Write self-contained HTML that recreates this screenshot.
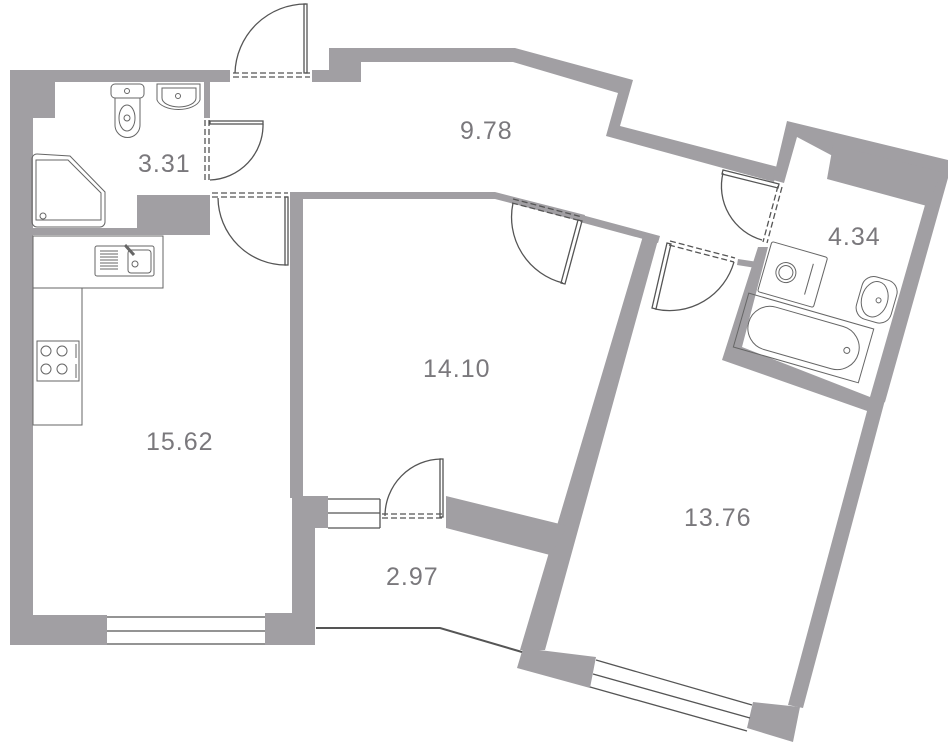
<!DOCTYPE html>
<html><head><meta charset="utf-8"><style>
html,body{margin:0;padding:0;background:#fff;}
svg{display:block}
text{font-family:"Liberation Sans",sans-serif;font-weight:300;fill:#7a787c;font-size:25px;letter-spacing:1px;}
</style></head><body>
<svg width="948" height="743" viewBox="0 0 948 743" xmlns="http://www.w3.org/2000/svg">
<g fill="#a19fa3" stroke="none">
<rect x="10" y="70" width="23" height="575"/>
<rect x="10" y="70" width="220" height="12"/>
<rect x="10" y="70" width="45" height="48"/>
<rect x="204" y="82" width="6" height="36"/>
<rect x="137" y="195" width="73" height="40"/>
<rect x="33" y="228" width="177" height="7"/>
<rect x="10" y="615" width="97" height="30"/>
<rect x="265" y="613" width="50" height="32"/>
<rect x="290" y="192" width="13" height="306"/>
<rect x="292" y="498" width="23" height="147"/>
<rect x="303" y="496" width="25" height="32"/>
<rect x="290" y="192" width="205" height="7"/>
<polygon points="495,192 585,215 583,222 495,199"/>
<polygon points="582,215 660,236 658,243 580,222"/>
<polygon points="312,70 329,70 329,48 515,48 633,80 620,126 778,167 774,182 606,136 618,93 513,62 361,62 361,82 312,82"/>
<polygon points="787,121 948,160 948,178 885,402 870,412 722,360 758,247 768,247 742,347 870,397 925,205 797,137 784,183 773,180"/>
<polygon points="833,145 942,172 927,206 827,179"/>
<polygon points="738,259 758,262 756,268 737,265"/>
<polygon points="643,236 658,240 545,650 520,650"/>
<polygon points="446,496 568,526 550,555 446,528"/>
<polygon points="517,668 523,648 596,657 590,688"/>
<polygon points="885,400 870,400 788,705 803,708"/>
<polygon points="753,702 800,707 793,742 747,728"/>
</g>
<g fill="none" stroke="#555" stroke-width="1.3">
<line x1="107" y1="617" x2="265" y2="617"/><line x1="107" y1="631" x2="265" y2="631"/><line x1="107" y1="644" x2="265" y2="644"/>
<line x1="328" y1="499" x2="380" y2="499"/><line x1="328" y1="513" x2="380" y2="513"/><line x1="328" y1="528" x2="380" y2="528"/><line x1="380" y1="499" x2="380" y2="528"/>
<line x1="596" y1="660" x2="752" y2="705"/><line x1="593" y1="674" x2="750" y2="718"/><line x1="590" y1="687" x2="747" y2="731"/>
<polyline points="316,628 440,628 522,652" stroke-width="2"/>
<path d="M235,73 A71,71 0 0 1 306,4"/><rect x="304" y="4" width="3" height="69"/>
<line x1="233" y1="73" x2="310" y2="73" stroke-dasharray="6,3"/><line x1="233" y1="77" x2="310" y2="77" stroke-dasharray="6,3"/>
<path d="M263,124 A55,55 0 0 1 210,180"/><rect x="210" y="121" width="53" height="3"/>
<line x1="205" y1="120" x2="205" y2="182" stroke-dasharray="6,3"/><line x1="209" y1="120" x2="209" y2="182" stroke-dasharray="6,3"/>
<line x1="212" y1="193" x2="288" y2="193" stroke-dasharray="6,3"/><line x1="212" y1="197" x2="288" y2="197" stroke-dasharray="6,3"/>
<path d="M218,198 A68,68 0 0 0 286,265"/><rect x="285" y="197" width="3" height="68"/>
<line x1="513" y1="199" x2="582" y2="217" stroke-dasharray="6,3"/><line x1="512" y1="203" x2="581" y2="221" stroke-dasharray="6,3"/>
<path d="M513,203 A68,68 0 0 0 563,283"/><polygon points="578,220 582,221 565,284 561,283"/>
<line x1="670" y1="241" x2="735" y2="258" stroke-dasharray="6,3"/><line x1="669" y1="245" x2="734" y2="262" stroke-dasharray="6,3"/>
<path d="M655,309 A67,67 0 0 0 734,262"/><polygon points="667,243 671,244 656,309 652,308"/>
<polygon points="723,170 779,184 778,188 722,174"/>
<path d="M723,173 A56,56 0 0 0 762,240"/>
<line x1="778" y1="186" x2="763" y2="242" stroke-dasharray="6,3"/><line x1="782" y1="187" x2="767" y2="243" stroke-dasharray="6,3"/>
<path d="M385,516 A57,57 0 0 1 441,459"/><rect x="440" y="459" width="3" height="58"/>
<line x1="382" y1="514" x2="444" y2="514" stroke-dasharray="6,3"/><line x1="382" y1="518" x2="444" y2="518" stroke-dasharray="6,3"/>
</g>
<g fill="none" stroke="#666" stroke-width="1">
<rect x="111" y="84" width="33" height="14" rx="4"/>
<path d="M115,98 L115,125 A12,12 0 0 0 140,125 L140,98"/>
<ellipse cx="127" cy="118" rx="8" ry="13"/><circle cx="127" cy="118" r="3"/><circle cx="127" cy="91" r="2.5"/>
<path d="M157,84 L200,84 L200,100 A22,12 0 0 1 157,100 Z"/><path d="M162,88 L196,88 L196,98 A17,9 0 0 1 162,98 Z"/><circle cx="178" cy="96" r="2.5"/>
<path d="M32,158 L32,222 A5,5 0 0 0 37,227 L100,227 A5,5 0 0 0 105,222 L105,192 L70,156 L37,154 A5,5 0 0 0 32,158 Z"/>
<path d="M36,160 L36,220 L101,220 L101,193 L68,160 Z"/><circle cx="43" cy="216" r="3"/>
<rect x="33" y="236" width="130" height="52"/>
<rect x="33" y="288" width="49" height="137"/>
<rect x="95" y="246" width="59" height="30" rx="2"/>
<rect x="128" y="250" width="23" height="23" rx="3"/><circle cx="135" cy="264" r="3"/>
<path d="M100,251 h18 M100,254 h18 M100,257 h18 M100,260 h18 M100,263 h18 M100,266 h18 M100,269 h18"/>
<line x1="125" y1="245" x2="134" y2="255" stroke-width="3"/>
<rect x="37" y="341" width="42" height="40"/>
<circle cx="46" cy="351" r="5"/><circle cx="62" cy="351" r="5"/><circle cx="46" cy="369" r="5"/><circle cx="62" cy="369" r="5"/>
<line x1="76" y1="344" x2="76" y2="358"/><line x1="76" y1="364" x2="76" y2="378"/>
<g transform="rotate(16 790 280)">
<rect x="762" y="248" width="58" height="52" rx="2"/>
<circle cx="784" cy="274" r="10"/><circle cx="784" cy="274" r="7"/>
<line x1="808" y1="258" x2="808" y2="290"/>
<rect x="754" y="304" width="130" height="56"/>
<rect x="762" y="310" width="114" height="44" rx="22"/>
<circle cx="864" cy="332" r="3"/>
</g>
<g transform="rotate(16 878 295)">
<rect x="860" y="278" width="36" height="44" rx="12"/>
<ellipse cx="876" cy="300" rx="13" ry="18"/><circle cx="880" cy="300" r="2.5"/>
</g>
</g>
<text x="138" y="172">3.31</text>
<text x="460" y="139">9.78</text>
<text x="828" y="245">4.34</text>
<text x="423" y="377">14.10</text>
<text x="146" y="450">15.62</text>
<text x="684" y="526">13.76</text>
<text x="386" y="585">2.97</text>
</svg>
</body></html>
